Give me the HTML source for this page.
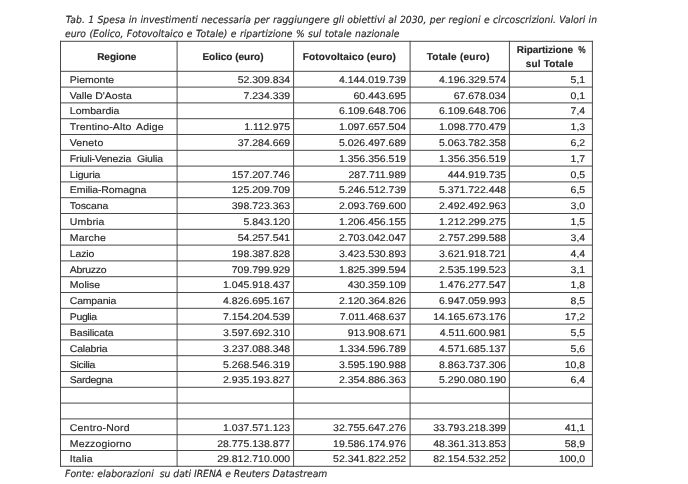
<!DOCTYPE html>
<html lang="it"><head><meta charset="utf-8"><title>Tab. 1</title>
<style>
html,body{margin:0;padding:0;background:#fff;}
body{width:688px;height:484px;position:relative;overflow:hidden;}
svg{position:absolute;left:0;top:0;display:block;filter:blur(0.3px);}
text{text-rendering:geometricPrecision;font-family:"Liberation Sans",Arial,sans-serif;font-size:10.5px;fill:#262626;stroke:#262626;stroke-width:0.15px;stroke-linejoin:round;white-space:pre;}
.r{text-anchor:end;}
.c{text-anchor:middle;}
.b{font-weight:bold;font-size:10.0px;letter-spacing:0px;}
.cap{font-family:"DejaVu Sans",Verdana,sans-serif;font-style:italic;font-size:9.25px;word-spacing:0.5px;}
</style></head><body>
<svg width="688" height="484" viewBox="0 0 688 484">
<rect width="688" height="484" fill="#fff"/>

<g stroke="#484848" stroke-width="1.0" fill="none">
<line x1="60.50" y1="40.80" x2="60.50" y2="466.80"/>
<line x1="177.10" y1="40.80" x2="177.10" y2="466.80"/>
<line x1="293.60" y1="40.80" x2="293.60" y2="466.80"/>
<line x1="410.10" y1="40.80" x2="410.10" y2="466.80"/>
<line x1="509.40" y1="40.80" x2="509.40" y2="466.80"/>
<line x1="592.40" y1="40.80" x2="592.40" y2="466.80"/>
<line x1="60.00" y1="41.30" x2="592.90" y2="41.30"/>
<line x1="60.00" y1="71.30" x2="592.90" y2="71.30"/>
<line x1="60.00" y1="87.10" x2="592.90" y2="87.10"/>
<line x1="60.00" y1="102.90" x2="592.90" y2="102.90"/>
<line x1="60.00" y1="118.70" x2="592.90" y2="118.70"/>
<line x1="60.00" y1="134.50" x2="592.90" y2="134.50"/>
<line x1="60.00" y1="150.30" x2="592.90" y2="150.30"/>
<line x1="60.00" y1="166.10" x2="592.90" y2="166.10"/>
<line x1="60.00" y1="181.90" x2="592.90" y2="181.90"/>
<line x1="60.00" y1="197.70" x2="592.90" y2="197.70"/>
<line x1="60.00" y1="213.50" x2="592.90" y2="213.50"/>
<line x1="60.00" y1="229.30" x2="592.90" y2="229.30"/>
<line x1="60.00" y1="245.10" x2="592.90" y2="245.10"/>
<line x1="60.00" y1="260.90" x2="592.90" y2="260.90"/>
<line x1="60.00" y1="276.70" x2="592.90" y2="276.70"/>
<line x1="60.00" y1="292.50" x2="592.90" y2="292.50"/>
<line x1="60.00" y1="308.30" x2="592.90" y2="308.30"/>
<line x1="60.00" y1="324.10" x2="592.90" y2="324.10"/>
<line x1="60.00" y1="339.90" x2="592.90" y2="339.90"/>
<line x1="60.00" y1="355.70" x2="592.90" y2="355.70"/>
<line x1="60.00" y1="371.50" x2="592.90" y2="371.50"/>
<line x1="60.00" y1="387.30" x2="592.90" y2="387.30"/>
<line x1="60.00" y1="403.10" x2="592.90" y2="403.10"/>
<line x1="60.00" y1="418.90" x2="592.90" y2="418.90"/>
<line x1="60.00" y1="434.70" x2="592.90" y2="434.70"/>
<line x1="60.00" y1="450.50" x2="592.90" y2="450.50"/>
<line x1="60.00" y1="466.30" x2="592.90" y2="466.30"/>
</g>
<g transform="scale(1,1.06)">
<text id="cap1" class="cap" x="65.70" y="22.08" style="word-spacing:0.42px" xml:space="preserve">Tab. 1 Spesa in investimenti necessaria per raggiungere gli obiettivi al 2030, per regioni e circoscrizioni. Valori in</text>
<text id="cap2" class="cap" x="65.00" y="35.33" xml:space="preserve">euro (Eolico, Fotovoltaico e Totale) e ripartizione % sul totale nazionale</text>
<text id="foot" class="cap" x="65.10" y="450.00" style="word-spacing:0px" xml:space="preserve">Fonte: elaborazioni  su dati IRENA e Reuters Datastream</text>
</g>
<text id="h0" class="c b" x="116.77" y="60.00" style="letter-spacing:-0.05px" xml:space="preserve">Regione</text>
<text id="h1" class="c b" x="233.00" y="60.00" style="letter-spacing:0.00px" xml:space="preserve">Eolico (euro)</text>
<text id="h2" class="c b" x="349.38" y="60.00" style="letter-spacing:0.15px" xml:space="preserve">Fotovoltaico (euro)</text>
<text id="h3" class="c b" x="458.23" y="60.00" style="letter-spacing:0.25px" xml:space="preserve">Totale (euro)</text>
<text id="h4" class="c b" x="551.16" y="53.00" style="letter-spacing:-0.08px" xml:space="preserve">Ripartizione <tspan dx="2.4" textLength="7.3" lengthAdjust="spacingAndGlyphs">%</tspan></text>
<text id="h5" class="c b" x="549.60" y="67.40" style="letter-spacing:0.20px" xml:space="preserve">sul Totale</text>
<g transform="scale(1,0.92)">
<text id="n0" x="69.80" y="89.95" xml:space="preserve">Piemonte</text>
<text id="v0_0" class="r" x="290.20" y="89.95" xml:space="preserve">52.309.834</text>
<text id="v0_1" class="r" x="406.10" y="89.95" xml:space="preserve">4.144.019.739</text>
<text id="v0_2" class="r" x="506.20" y="89.95" xml:space="preserve">4.196.329.574</text>
<text id="v0_3" class="r" x="585.20" y="89.95" xml:space="preserve">5,1</text>
<text id="n1" x="69.80" y="107.14" xml:space="preserve">Valle D'Aosta</text>
<text id="v1_0" class="r" x="290.20" y="107.14" xml:space="preserve">7.234.339</text>
<text id="v1_1" class="r" x="406.10" y="107.14" xml:space="preserve">60.443.695</text>
<text id="v1_2" class="r" x="506.20" y="107.14" xml:space="preserve">67.678.034</text>
<text id="v1_3" class="r" x="585.20" y="107.14" xml:space="preserve">0,1</text>
<text id="n2" x="69.80" y="124.34" xml:space="preserve">Lombardia</text>
<text id="v2_1" class="r" x="406.10" y="124.34" xml:space="preserve">6.109.648.706</text>
<text id="v2_2" class="r" x="506.20" y="124.34" xml:space="preserve">6.109.648.706</text>
<text id="v2_3" class="r" x="585.20" y="124.34" xml:space="preserve">7,4</text>
<text id="n3" x="69.80" y="141.53" style="letter-spacing:0.16px;word-spacing:1.90px;" xml:space="preserve">Trentino-Alto Adige</text>
<text id="v3_0" class="r" x="290.20" y="141.53" xml:space="preserve">1.112.975</text>
<text id="v3_1" class="r" x="406.10" y="141.53" xml:space="preserve">1.097.657.504</text>
<text id="v3_2" class="r" x="506.20" y="141.53" xml:space="preserve">1.098.770.479</text>
<text id="v3_3" class="r" x="585.20" y="141.53" xml:space="preserve">1,3</text>
<text id="n4" x="69.80" y="158.73" style="letter-spacing:0.15px;" xml:space="preserve">Veneto</text>
<text id="v4_0" class="r" x="290.20" y="158.73" xml:space="preserve">37.284.669</text>
<text id="v4_1" class="r" x="406.10" y="158.73" xml:space="preserve">5.026.497.689</text>
<text id="v4_2" class="r" x="506.20" y="158.73" xml:space="preserve">5.063.782.358</text>
<text id="v4_3" class="r" x="585.20" y="158.73" xml:space="preserve">6,2</text>
<text id="n5" x="69.80" y="175.92" style="letter-spacing:-0.16px;word-spacing:3.00px;" xml:space="preserve">Friuli-Venezia Giulia</text>
<text id="v5_1" class="r" x="406.10" y="175.92" xml:space="preserve">1.356.356.519</text>
<text id="v5_2" class="r" x="506.20" y="175.92" xml:space="preserve">1.356.356.519</text>
<text id="v5_3" class="r" x="585.20" y="175.92" xml:space="preserve">1,7</text>
<text id="n6" x="69.80" y="193.12" style="letter-spacing:-0.15px;" xml:space="preserve">Liguria</text>
<text id="v6_0" class="r" x="290.20" y="193.12" xml:space="preserve">157.207.746</text>
<text id="v6_1" class="r" x="406.10" y="193.12" xml:space="preserve">287.711.989</text>
<text id="v6_2" class="r" x="506.20" y="193.12" xml:space="preserve">444.919.735</text>
<text id="v6_3" class="r" x="585.20" y="193.12" xml:space="preserve">0,5</text>
<text id="n7" x="69.80" y="210.32" style="letter-spacing:-0.08px;" xml:space="preserve">Emilia-Romagna</text>
<text id="v7_0" class="r" x="290.20" y="210.32" xml:space="preserve">125.209.709</text>
<text id="v7_1" class="r" x="406.10" y="210.32" xml:space="preserve">5.246.512.739</text>
<text id="v7_2" class="r" x="506.20" y="210.32" xml:space="preserve">5.371.722.448</text>
<text id="v7_3" class="r" x="585.20" y="210.32" xml:space="preserve">6,5</text>
<text id="n8" x="69.80" y="227.51" style="letter-spacing:-0.10px;" xml:space="preserve">Toscana</text>
<text id="v8_0" class="r" x="290.20" y="227.51" xml:space="preserve">398.723.363</text>
<text id="v8_1" class="r" x="406.10" y="227.51" xml:space="preserve">2.093.769.600</text>
<text id="v8_2" class="r" x="506.20" y="227.51" xml:space="preserve">2.492.492.963</text>
<text id="v8_3" class="r" x="585.20" y="227.51" xml:space="preserve">3,0</text>
<text id="n9" x="69.80" y="244.71" style="letter-spacing:0.15px;" xml:space="preserve">Umbria</text>
<text id="v9_0" class="r" x="290.20" y="244.71" xml:space="preserve">5.843.120</text>
<text id="v9_1" class="r" x="406.10" y="244.71" xml:space="preserve">1.206.456.155</text>
<text id="v9_2" class="r" x="506.20" y="244.71" xml:space="preserve">1.212.299.275</text>
<text id="v9_3" class="r" x="585.20" y="244.71" xml:space="preserve">1,5</text>
<text id="n10" x="69.80" y="261.90" style="letter-spacing:0.20px;" xml:space="preserve">Marche</text>
<text id="v10_0" class="r" x="290.20" y="261.90" xml:space="preserve">54.257.541</text>
<text id="v10_1" class="r" x="406.10" y="261.90" xml:space="preserve">2.703.042.047</text>
<text id="v10_2" class="r" x="506.20" y="261.90" xml:space="preserve">2.757.299.588</text>
<text id="v10_3" class="r" x="585.20" y="261.90" xml:space="preserve">3,4</text>
<text id="n11" x="69.80" y="279.10" style="letter-spacing:-0.15px;" xml:space="preserve">Lazio</text>
<text id="v11_0" class="r" x="290.20" y="279.10" xml:space="preserve">198.387.828</text>
<text id="v11_1" class="r" x="406.10" y="279.10" xml:space="preserve">3.423.530.893</text>
<text id="v11_2" class="r" x="506.20" y="279.10" xml:space="preserve">3.621.918.721</text>
<text id="v11_3" class="r" x="585.20" y="279.10" xml:space="preserve">4,4</text>
<text id="n12" x="69.80" y="296.29" style="letter-spacing:-0.30px;" xml:space="preserve">Abruzzo</text>
<text id="v12_0" class="r" x="290.20" y="296.29" xml:space="preserve">709.799.929</text>
<text id="v12_1" class="r" x="406.10" y="296.29" xml:space="preserve">1.825.399.594</text>
<text id="v12_2" class="r" x="506.20" y="296.29" xml:space="preserve">2.535.199.523</text>
<text id="v12_3" class="r" x="585.20" y="296.29" xml:space="preserve">3,1</text>
<text id="n13" x="69.80" y="313.49" xml:space="preserve">Molise</text>
<text id="v13_0" class="r" x="290.20" y="313.49" xml:space="preserve">1.045.918.437</text>
<text id="v13_1" class="r" x="406.10" y="313.49" xml:space="preserve">430.359.109</text>
<text id="v13_2" class="r" x="506.20" y="313.49" xml:space="preserve">1.476.277.547</text>
<text id="v13_3" class="r" x="585.20" y="313.49" xml:space="preserve">1,8</text>
<text id="n14" x="69.80" y="330.68" style="letter-spacing:-0.20px;" xml:space="preserve">Campania</text>
<text id="v14_0" class="r" x="290.20" y="330.68" xml:space="preserve">4.826.695.167</text>
<text id="v14_1" class="r" x="406.10" y="330.68" xml:space="preserve">2.120.364.826</text>
<text id="v14_2" class="r" x="506.20" y="330.68" xml:space="preserve">6.947.059.993</text>
<text id="v14_3" class="r" x="585.20" y="330.68" xml:space="preserve">8,5</text>
<text id="n15" x="69.80" y="347.88" style="letter-spacing:-0.38px;" xml:space="preserve">Puglia</text>
<text id="v15_0" class="r" x="290.20" y="347.88" xml:space="preserve">7.154.204.539</text>
<text id="v15_1" class="r" x="406.10" y="347.88" xml:space="preserve">7.011.468.637</text>
<text id="v15_2" class="r" x="506.20" y="347.88" xml:space="preserve">14.165.673.176</text>
<text id="v15_3" class="r" x="585.20" y="347.88" xml:space="preserve">17,2</text>
<text id="n16" x="69.80" y="365.08" style="letter-spacing:-0.13px;" xml:space="preserve">Basilicata</text>
<text id="v16_0" class="r" x="290.20" y="365.08" xml:space="preserve">3.597.692.310</text>
<text id="v16_1" class="r" x="406.10" y="365.08" xml:space="preserve">913.908.671</text>
<text id="v16_2" class="r" x="506.20" y="365.08" xml:space="preserve">4.511.600.981</text>
<text id="v16_3" class="r" x="585.20" y="365.08" xml:space="preserve">5,5</text>
<text id="n17" x="69.80" y="382.27" style="letter-spacing:-0.20px;" xml:space="preserve">Calabria</text>
<text id="v17_0" class="r" x="290.20" y="382.27" xml:space="preserve">3.237.088.348</text>
<text id="v17_1" class="r" x="406.10" y="382.27" xml:space="preserve">1.334.596.789</text>
<text id="v17_2" class="r" x="506.20" y="382.27" xml:space="preserve">4.571.685.137</text>
<text id="v17_3" class="r" x="585.20" y="382.27" xml:space="preserve">5,6</text>
<text id="n18" x="69.80" y="399.47" style="letter-spacing:-0.30px;" xml:space="preserve">Sicilia</text>
<text id="v18_0" class="r" x="290.20" y="399.47" xml:space="preserve">5.268.546.319</text>
<text id="v18_1" class="r" x="406.10" y="399.47" xml:space="preserve">3.595.190.988</text>
<text id="v18_2" class="r" x="506.20" y="399.47" xml:space="preserve">8.863.737.306</text>
<text id="v18_3" class="r" x="585.20" y="399.47" xml:space="preserve">10,8</text>
<text id="n19" x="69.80" y="416.66" style="letter-spacing:-0.35px;" xml:space="preserve">Sardegna</text>
<text id="v19_0" class="r" x="290.20" y="416.66" xml:space="preserve">2.935.193.827</text>
<text id="v19_1" class="r" x="406.10" y="416.66" xml:space="preserve">2.354.886.363</text>
<text id="v19_2" class="r" x="506.20" y="416.66" xml:space="preserve">5.290.080.190</text>
<text id="v19_3" class="r" x="585.20" y="416.66" xml:space="preserve">6,4</text>
<text id="n22" x="69.80" y="468.25" style="letter-spacing:0.20px;" xml:space="preserve">Centro-Nord</text>
<text id="v22_0" class="r" x="290.20" y="468.25" xml:space="preserve">1.037.571.123</text>
<text id="v22_1" class="r" x="406.10" y="468.25" xml:space="preserve">32.755.647.276</text>
<text id="v22_2" class="r" x="506.20" y="468.25" xml:space="preserve">33.793.218.399</text>
<text id="v22_3" class="r" x="585.20" y="468.25" xml:space="preserve">41,1</text>
<text id="n23" x="69.80" y="485.45" style="letter-spacing:0.15px;" xml:space="preserve">Mezzogiorno</text>
<text id="v23_0" class="r" x="290.20" y="485.45" xml:space="preserve">28.775.138.877</text>
<text id="v23_1" class="r" x="406.10" y="485.45" xml:space="preserve">19.586.174.976</text>
<text id="v23_2" class="r" x="506.20" y="485.45" xml:space="preserve">48.361.313.853</text>
<text id="v23_3" class="r" x="585.20" y="485.45" xml:space="preserve">58,9</text>
<text id="n24" x="69.80" y="502.64" style="letter-spacing:0.10px;" xml:space="preserve">Italia</text>
<text id="v24_0" class="r" x="290.20" y="502.64" xml:space="preserve">29.812.710.000</text>
<text id="v24_1" class="r" x="406.10" y="502.64" xml:space="preserve">52.341.822.252</text>
<text id="v24_2" class="r" x="506.20" y="502.64" xml:space="preserve">82.154.532.252</text>
<text id="v24_3" class="r" x="585.20" y="502.64" xml:space="preserve">100,0</text>
</g>
</svg>
</body></html>
